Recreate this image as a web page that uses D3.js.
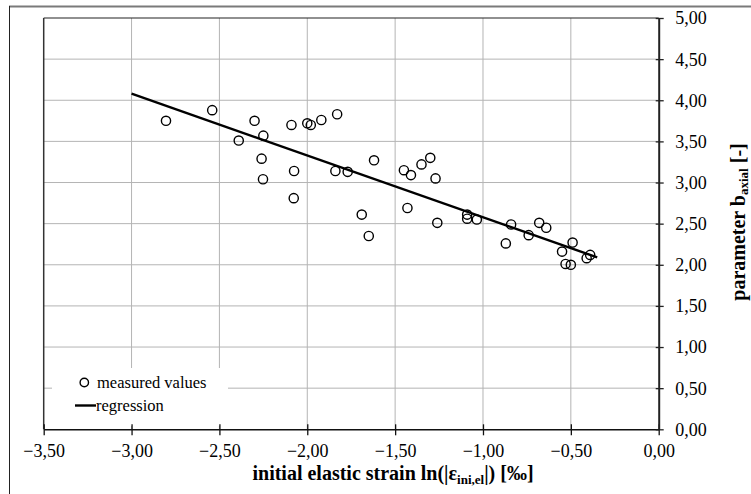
<!DOCTYPE html>
<html>
<head>
<meta charset="utf-8">
<script src="https://cdn.jsdelivr.net/npm/d3@7"></script>
<style>
  html, body { margin: 0; padding: 0; background: #fff; }
  svg { display: block; }
  svg text { font-family: "Liberation Serif", "Times New Roman", Tinos, "DejaVu Serif", serif; fill: #000; }
</style>
</head>
<body>
<svg id="chart" width="751" height="494"></svg>
<script>
// Measured strain / parameter pairs
const strainLn = [
  -2.804, -2.541, -2.30, -2.39, -2.25, -2.26, -2.252, -2.09, -2.075, -2.077,
  -2.00, -1.98, -1.92, -1.83, -1.84, -1.77, -1.62, -1.69, -1.65, -1.45,
  -1.41, -1.35, -1.30, -1.27, -1.43, -1.26, -1.09, -1.09, -1.035, -0.84,
  -0.74, -0.87, -0.68, -0.64, -0.49, -0.55, -0.53, -0.50, -0.41, -0.39
];
const bAxial = [
  3.75, 3.88, 3.75, 3.51, 3.57, 3.29, 3.04, 3.70, 3.14, 2.81,
  3.72, 3.70, 3.76, 3.83, 3.14, 3.13, 3.27, 2.61, 2.35, 3.15,
  3.09, 3.22, 3.30, 3.05, 2.69, 2.51, 2.61, 2.56, 2.55, 2.49,
  2.36, 2.26, 2.51, 2.45, 2.27, 2.16, 2.01, 2.00, 2.08, 2.12
];

// Regression line end points
const regX = [-3.00, -0.35];
const regY = [4.08, 2.09];

// Axis ticks
const xTicks = [-3.5, -3.0, -2.5, -2.0, -1.5, -1.0, -0.5, 0.0];
const yTicks = [0, 0.5, 1.0, 1.5, 2.0, 2.5, 3.0, 3.5, 4.0, 4.5, 5.0];

const SERIF = '"Liberation Serif", "Times New Roman", Tinos, "DejaVu Serif", serif';

const svg = d3.select("#chart");
const plot = { left: 43.7, right: 658.7, top: 18, bottom: 429.3 };

const x = d3.scaleLinear().domain([-3.5, 0]).range([plot.left, plot.right]);
const y = d3.scaleLinear().domain([0, 5]).range([plot.bottom, plot.top]);
const fmt = v => d3.format(".2f")(v).replace(".", ",");

// Outer frame
svg.append("line").attr("x1", 9).attr("x2", 751).attr("y1", 6.5).attr("y2", 6.5)
  .attr("stroke", "#7a7a7a").attr("stroke-width", 2);
svg.append("line").attr("x1", 9.5).attr("x2", 9.5).attr("y1", 6).attr("y2", 494)
  .attr("stroke", "#222").attr("stroke-width", 1);

// Gridlines
const grid = svg.append("g");
grid.selectAll("line.v").data(xTicks.filter(d => d > -3.5 && d < 0)).join("line")
  .attr("x1", d => x(d)).attr("x2", d => x(d))
  .attr("y1", plot.top).attr("y2", plot.bottom)
  .attr("stroke", "#b4b4b4").attr("stroke-width", 1);
grid.selectAll("line.h").data(yTicks.filter(d => d > 0 && d < 5)).join("line")
  .attr("x1", plot.left).attr("x2", plot.right)
  .attr("y1", d => y(d)).attr("y2", d => y(d))
  .attr("stroke", "#b4b4b4").attr("stroke-width", 1);

// Plot border (top and left)
svg.append("line").attr("x1", plot.left).attr("x2", plot.right)
  .attr("y1", plot.top).attr("y2", plot.top).attr("stroke", "#222").attr("stroke-width", 1.2);
svg.append("line").attr("x1", plot.left).attr("x2", plot.left)
  .attr("y1", plot.top).attr("y2", plot.bottom).attr("stroke", "#333").attr("stroke-width", 1.5);

// Legend box (covers the gridlines)
svg.append("rect").attr("x", 52).attr("y", 368).attr("width", 176).attr("height", 58)
  .attr("fill", "#fff");

// Bottom axis
const xAxis = d3.axisBottom(x).tickValues(xTicks).tickFormat(fmt).tickSize(0).tickPadding(0);
const gx = svg.append("g").attr("transform", `translate(0,${plot.bottom})`).call(xAxis)
  .attr("font-family", null).attr("font-size", null);
gx.select(".domain").attr("stroke", "#111").attr("stroke-width", 1.5);
gx.selectAll(".tick line").remove();
gx.selectAll(".tick").append("line").attr("y1", -5).attr("y2", 6)
  .attr("stroke", "#111").attr("stroke-width", 1.3);
gx.selectAll(".tick text").attr("dy", null).attr("y", 27.5)
  .style("font-family", SERIF).style("font-size", "18px");

// Right axis
const yAxis = d3.axisRight(y).tickValues(yTicks).tickFormat(fmt).tickSize(0).tickPadding(0);
const gy = svg.append("g").attr("transform", `translate(${plot.right},0)`).call(yAxis)
  .attr("font-family", null).attr("font-size", null);
gy.select(".domain").attr("stroke", "#222").attr("stroke-width", 2);
gy.selectAll(".tick line").remove();
gy.selectAll(".tick").append("line").attr("x1", -3).attr("x2", 5)
  .attr("stroke", "#222").attr("stroke-width", 1.3);
gy.selectAll(".tick text").attr("x", 16.5).attr("dy", "0.33em")
  .style("font-family", SERIF).style("font-size", "18px");

// Regression line
svg.append("path")
  .datum(regX.map((d, i) => [d, regY[i]]))
  .attr("d", d3.line().x(d => x(d[0])).y(d => y(d[1])))
  .attr("fill", "none").attr("stroke", "#000").attr("stroke-width", 2.4);

// Measured points
svg.append("g").selectAll("circle").data(strainLn.map((d, i) => [d, bAxial[i]])).join("circle")
  .attr("cx", d => x(d[0])).attr("cy", d => y(d[1])).attr("r", 4.6)
  .attr("fill", "none").attr("stroke", "#000").attr("stroke-width", 1.4);

// Legend
const lg = svg.append("g");
lg.append("circle").attr("cx", 84.3).attr("cy", 382.5).attr("r", 4.2)
  .attr("fill", "none").attr("stroke", "#000").attr("stroke-width", 1.4);
lg.append("text").attr("x", 97).attr("y", 388)
  .style("font-family", SERIF).style("font-size", "16.5px").text("measured values");
lg.append("line").attr("x1", 75).attr("x2", 96).attr("y1", 405.5).attr("y2", 405.5)
  .attr("stroke", "#000").attr("stroke-width", 2.4);
lg.append("text").attr("x", 96).attr("y", 411)
  .style("font-family", SERIF).style("font-size", "16.5px").text("regression");

// Axis titles
const xt = svg.append("text").attr("x", 393).attr("y", 480).attr("text-anchor", "middle")
  .style("font-family", SERIF).style("font-size", "20px").style("font-weight", "bold");
xt.append("tspan").text("initial elastic strain ln(|ε");
xt.append("tspan").style("font-size", "13px").attr("dy", 4).text("ini,el");
xt.append("tspan").attr("dy", -4).text("|) [‰]");

const yt = svg.append("text").attr("transform", "translate(744.5,222) rotate(-90)")
  .attr("text-anchor", "middle")
  .style("font-family", SERIF).style("font-size", "20px").style("font-weight", "bold");
yt.append("tspan").text("parameter b");
yt.append("tspan").style("font-size", "13px").attr("dy", 3).text("axial");
yt.append("tspan").attr("dy", -3).text(" [-]");
</script>
</body>
</html>
